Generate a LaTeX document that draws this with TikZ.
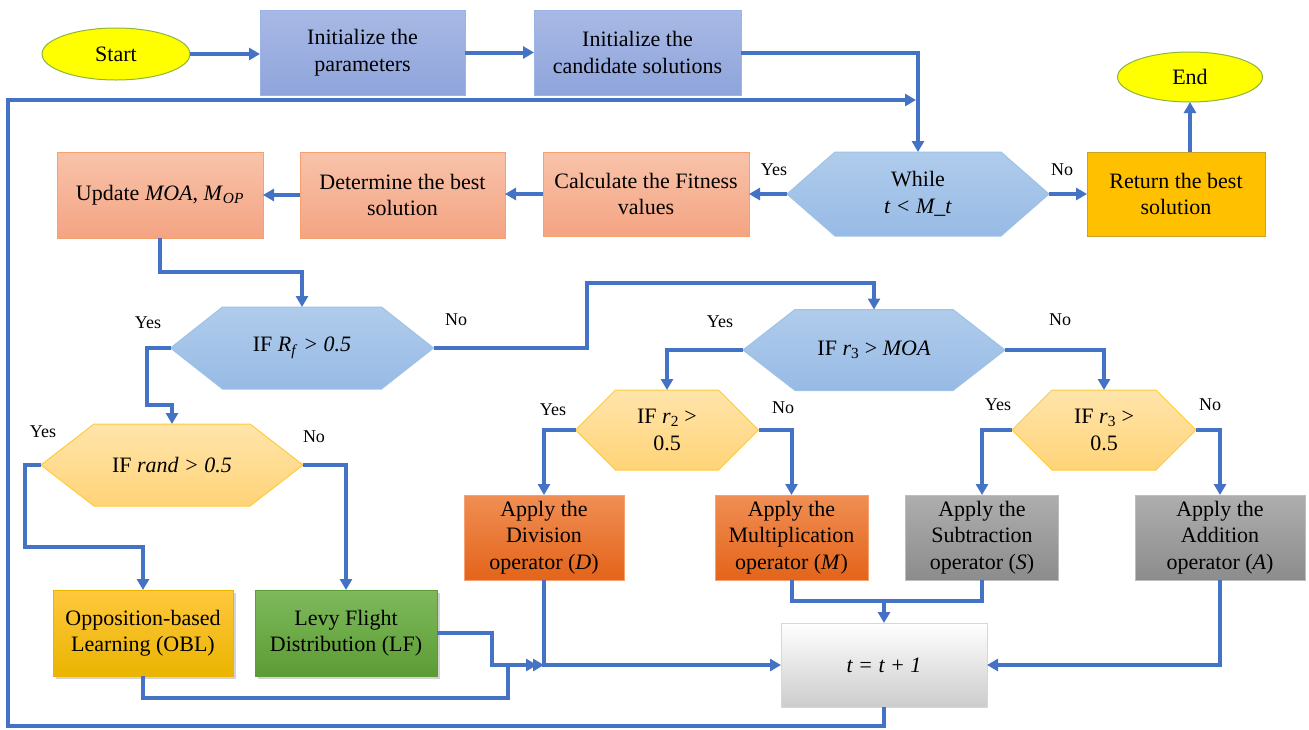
\documentclass[tikz,border=0pt]{standalone}
\usepackage{fontspec}
\setmainfont{Liberation Serif}
\usetikzlibrary{arrows.meta,shapes.geometric,shadows}
\definecolor{lb}{HTML}{4472C4}
\definecolor{inittop}{HTML}{A9B9E5}
\definecolor{initbot}{HTML}{8EA4DB}
\definecolor{initbd}{HTML}{9CB3E6}
\definecolor{saltop}{HTML}{F8C3AA}
\definecolor{salbot}{HTML}{F4A482}
\definecolor{salbd}{HTML}{F4A070}
\definecolor{hbtop}{HTML}{B0CCEC}
\definecolor{hbbot}{HTML}{97BAE5}
\definecolor{hbbd}{HTML}{9DC3E6}
\definecolor{hytop}{HTML}{FFE4AA}
\definecolor{hybot}{HTML}{FFD478}
\definecolor{hybd}{HTML}{FFCB3C}
\definecolor{retfill}{HTML}{FFC000}
\definecolor{retbd}{HTML}{C9A227}
\definecolor{sefill}{HTML}{FFFF00}
\definecolor{sebd}{HTML}{8DB43C}
\definecolor{obltop}{HTML}{FFC83E}
\definecolor{oblbot}{HTML}{EAB400}
\definecolor{lftop}{HTML}{7EB95C}
\definecolor{lfbot}{HTML}{5C9C34}
\definecolor{optop}{HTML}{F08E54}
\definecolor{opbot}{HTML}{E4641A}
\definecolor{opbd}{HTML}{F4A274}
\definecolor{grtop}{HTML}{AEAEAE}
\definecolor{grbot}{HTML}{8C8C8C}
\definecolor{grbd}{HTML}{BDBDBD}
\definecolor{tbd}{HTML}{FFD966}
\newcommand{\txtfont}{\fontsize{22}{26.5}\selectfont}
\newcommand{\lblfont}{\fontsize{18}{22}\selectfont}
\newcommand{\hexpath}[6]{%
  \path[#1] ({#2-#4/2},{#3}) -- ({#2-#4/2+#6},{#3-#5/2}) -- ({#2+#4/2-#6},{#3-#5/2})
   -- ({#2+#4/2},{#3}) -- ({#2+#4/2-#6},{#3+#5/2}) -- ({#2-#4/2+#6},{#3+#5/2}) -- cycle;}
\newcommand{\hexnode}[8]{%
  \hexpath{#7}{#2}{#3}{#4}{#5}{#6}
  \node[base, minimum width=#4, minimum height=#5] (#1) at (#2,#3) {#8};}
\tikzset{
  base/.style={font=\txtfont, align=center, inner sep=0pt, outer sep=0pt, text=black},
  boxr/.style={base, rectangle, line width=1pt},
  initbox/.style={boxr, top color=inittop, bottom color=initbot, draw=initbd},
  salbox/.style={boxr, top color=saltop, bottom color=salbot, draw=salbd},
  hexblue/.style={top color=hbtop, bottom color=hbbot, draw=hbbd, line width=1pt},
  hexyel/.style={top color=hytop, bottom color=hybot, draw=hybd, line width=1pt},
  retbox/.style={boxr, fill=retfill, draw=retbd},
  termin/.style={base, ellipse, fill=sefill, draw=sebd, line width=1pt},
  oblbox/.style={boxr, top color=obltop, bottom color=oblbot, draw=oblbot,
    drop shadow={opacity=0.35, shadow xshift=2.5pt, shadow yshift=-2.5pt}},
  lfbox/.style={boxr, top color=lftop, bottom color=lfbot, draw=lfbot,
    drop shadow={opacity=0.35, shadow xshift=2.5pt, shadow yshift=-2.5pt}},
  opbox/.style={boxr, top color=optop, bottom color=opbot, draw=opbd},
  grbox/.style={boxr, top color=grtop, bottom color=grbot, draw=grbd},
  tboxs/.style={boxr, top color=white, middle color=white!96!black, bottom color=black!20, draw=tbd},
  lbl/.style={font=\lblfont, inner sep=0pt},
  conn/.style={draw=lb, line width=4pt, -{Triangle[length=11pt,width=12pt]}},
  lin/.style={draw=lb, line width=4pt}
}
\begin{document}
\begin{tikzpicture}[x=1pt,y=-1pt]
\useasboundingbox (0,0) rectangle (1309,729);

% top row
\node[termin, minimum width=148, minimum height=52] (start) at (116,54) {Start};
\node[initbox, minimum width=205, minimum height=85] (init1) at (362.5,52.5) {Initialize the\\parameters};
\node[initbox, minimum width=207, minimum height=85] (init2) at (637.5,52.5) {Initialize the\\candidate solutions};
\node[termin, minimum width=145, minimum height=50] (end) at (1190,77) {End};

% second row
\hexnode{while}{918}{194}{262}{84}{48}{hexblue}{While\\\textit{t < M\_t}}
\node[retbox, minimum width=178, minimum height=84] (ret) at (1176,194) {Return the best\\solution};
\node[salbox, minimum width=206, minimum height=84] (calc) at (646,194) {Calculate the Fitness\\values};
\node[salbox, minimum width=205, minimum height=86] (det) at (402.5,195) {Determine the best\\solution};
\node[salbox, minimum width=206, minimum height=86] (upd) at (160,195) {Update \textit{MOA}, \textit{M}\textsubscript{\textit{OP}}};

% decisions
\hexnode{rf}{302}{348}{263}{82}{52}{hexblue}{IF \textit{R}\textsubscript{\textit{f}} \textit{> 0.5}}
\hexnode{rand}{172}{465}{262}{82}{53}{hexyel}{IF \textit{rand > 0.5}}
\hexnode{moa}{874}{350}{262}{81}{52}{hexblue}{IF \textit{r}\textsubscript{3} > \textit{MOA}}
\hexnode{r2}{667}{430}{183}{80}{40}{hexyel}{IF \textit{r}\textsubscript{2} >\\0.5}
\hexnode{r3}{1104}{430}{184}{80}{40}{hexyel}{IF \textit{r}\textsubscript{3} >\\0.5}

% action boxes
\node[oblbox, minimum width=180, minimum height=86] (obl) at (143,633) {Opposition-based\\Learning (OBL)};
\node[lfbox, minimum width=182, minimum height=86] (lf) at (346,633) {Levy Flight\\Distribution (LF)};
\node[opbox, minimum width=160, minimum height=85] (dv) at (544,537.5) {Apply the\\Division\\operator (\textit{D})};
\node[opbox, minimum width=153, minimum height=85] (mu) at (791.5,537.5) {Apply the\\Multiplication\\operator (\textit{M})};
\node[grbox, minimum width=153, minimum height=85] (su) at (982,537.5) {Apply the\\Subtraction\\operator (\textit{S})};
\node[grbox, minimum width=170, minimum height=85] (ad) at (1220,537.5) {Apply the\\Addition\\operator (\textit{A})};
\node[tboxs, minimum width=206, minimum height=84] (tbox) at (884,665) {\textit{t = t + 1}};

% labels
\node[lbl] (l1) at (774,170) {Yes};
\node[lbl] (l2) at (1062,170) {No};
\node[lbl] (l3) at (148,323) {Yes};
\node[lbl] (l4) at (456,320) {No};
\node[lbl] (l5) at (43,432) {Yes};
\node[lbl] (l6) at (314,437) {No};
\node[lbl] (l7) at (720,322) {Yes};
\node[lbl] (l8) at (1060,320) {No};
\node[lbl] (l9) at (553,410) {Yes};
\node[lbl] (l10) at (783,408) {No};
\node[lbl] (l11) at (998,405) {Yes};
\node[lbl] (l12) at (1210,405) {No};

% coordinates for bends
\coordinate (lpb) at (8,726);
\coordinate (lpt) at (8,100);
\coordinate (lpe) at (916,100);
\coordinate (c1) at (160,272);
\coordinate (c2) at (147,405);
\coordinate (c3) at (587,283);
\coordinate (c4) at (25,547);
\coordinate (c5) at (492,665);
\coordinate (m1) at (537,665);
\coordinate (c6) at (508,698);
\coordinate (m2) at (544,665);
\coordinate (c7) at (884,601);

% connectors
\draw[conn] (start.east) -- (start.east -| init1.west);
\draw[conn] (init1.east) -- (init1.east -| init2.west);
\draw[conn] (init2.east) -| (while.north);
\draw[conn] (tbox.south) |- (lpb) -- (lpt) -- (lpe);
\draw[conn] (while.west) -- (calc.east);
\draw[conn] (while.east) -- (ret.west);
\draw[conn] (end.south |- ret.north) -- (end.south);
\draw[conn] (calc.west) -- (calc.west -| det.east);
\draw[conn] (det.west) -- (det.west -| upd.east);
\draw[conn] (upd.south) -- (c1) -| (rf.north);
\draw[conn] (rf.west) -| (c2) -| (rand.north);
\draw[conn] (rf.east) -| (c3) -| (moa.north);
\draw[conn] (rand.west) -| (c4) -| (obl.north);
\draw[conn] (rand.east) -| (lf.north);
\draw[conn] (lf.east) -| (c5) -- (m1);
\draw[conn] (obl.south) |- (c6) |- (m2);
\draw[conn] (dv.south) |- (tbox.west);
\draw[conn] (moa.west) -| (r2.north);
\draw[conn] (moa.east) -| (r3.north);
\draw[conn] (r2.west) -| (dv.north);
\draw[conn] (r2.east) -| (mu.north);
\draw[conn] (r3.west) -| (su.north);
\draw[conn] (r3.east) -| (ad.north);
\draw[lin] (mu.south) |- (c7) -| (su.south);
\draw[conn] (c7) -- (tbox.north);
\draw[conn] (ad.south) |- (tbox.east);
\end{tikzpicture}
\end{document}
